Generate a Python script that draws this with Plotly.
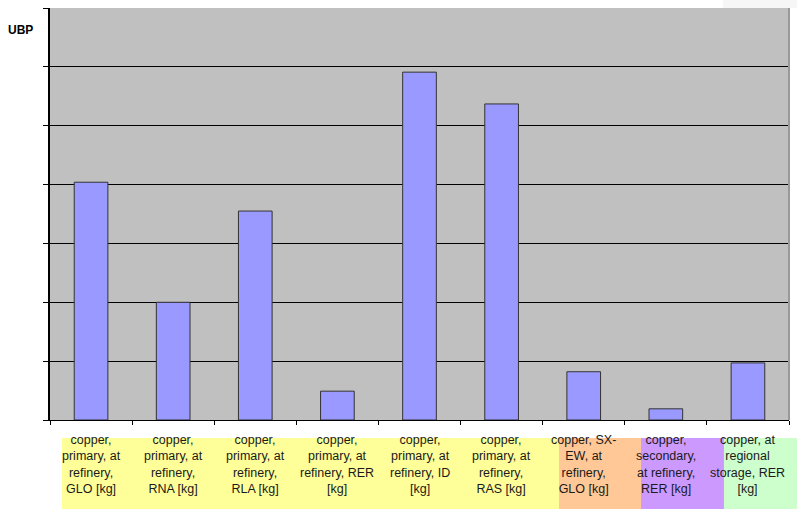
import plotly.graph_objects as go

# Impact per kg of copper (UBP), one bar per dataset
categories = [
    "copper,<br>primary, at<br>refinery,<br>GLO [kg]",
    "copper,<br>primary, at<br>refinery,<br>RNA [kg]",
    "copper,<br>primary, at<br>refinery,<br>RLA [kg]",
    "copper,<br>primary, at<br>refinery, RER<br>[kg]",
    "copper,<br>primary, at<br>refinery, ID<br>[kg]",
    "copper,<br>primary, at<br>refinery,<br>RAS [kg]",
    "copper, SX-<br>EW, at<br>refinery,<br>GLO [kg]",
    "copper,<br>secondary,<br>at refinery,<br>RER [kg]",
    "copper, at<br>regional<br>storage, RER<br>[kg]",
]
values = [4.04, 2.0, 3.55, 0.49, 5.91, 5.37, 0.82, 0.19, 0.97]

# Background bands behind the category labels (paper x extents)
band_edges = [0.0162, 0.6888, 0.7997, 0.912, 1.0108]
band_colors = ["#FFFF99", "#FFC896", "#CC99FF", "#CCFFCC"]

fig = go.Figure()
fig.add_trace(go.Bar(
    x=categories,
    y=values,
    width=0.41,
    marker=dict(color="#9999FF", line=dict(color="#333333", width=1)),
))

shapes = []
for i, col in enumerate(band_colors):
    shapes.append(dict(
        type="rect", xref="paper", yref="paper",
        x0=band_edges[i], x1=band_edges[i + 1], y0=-0.216, y1=-0.0437,
        fillcolor=col, line=dict(width=0), layer="below",
    ))
# faint panel in the top-right corner
shapes.append(dict(
    type="rect", xref="paper", yref="paper",
    x0=(723 - 50) / 739, x1=1.02, y0=1.0, y1=1.0 + 32 / 412,
    fillcolor="#F6F6F6", line=dict(width=0), layer="below",
))
# right border of the plot area
shapes.append(dict(
    type="line", xref="paper", yref="paper", x0=1, x1=1, y0=0, y1=1,
    line=dict(color="#999999", width=2),
))

label_font = dict(family="Liberation Sans, Arial", size=12.5, color="#1a1a1a")
annotations = [
    dict(x=c, y=0, xref="x", yref="y", text=c, showarrow=False,
         yanchor="top", yshift=-11, align="center", font=label_font)
    for c in categories
]
annotations.append(dict(
    x=(20.5 - 50) / 739, y=(420 - 30) / 412, xref="paper", yref="paper",
    text="<b>UBP</b>", showarrow=False, xanchor="center", yanchor="middle",
    font=dict(family="Liberation Sans, Arial", size=12, color="#000000"),
))

fig.update_layout(
    width=797, height=509,
    margin=dict(l=50, r=8, t=8, b=89),
    paper_bgcolor="white",
    plot_bgcolor="#C0C0C0",
    showlegend=False,
    bargap=0.59,
    shapes=shapes,
    annotations=annotations,
    xaxis=dict(
        type="category", showticklabels=False, tickson="boundaries",
        ticks="outside", ticklen=4, tickcolor="#000000", tickwidth=1,
        showline=True, linecolor="#000000", linewidth=1,
        showgrid=False, zeroline=False,
    ),
    yaxis=dict(
        range=[0, 7], dtick=1, tick0=0, showticklabels=False,
        ticks="outside", ticklen=5, tickcolor="#000000", tickwidth=1,
        showline=True, linecolor="#000000", linewidth=1.5,
        showgrid=True, gridcolor="#000000", gridwidth=1,
        zeroline=False,
    ),
)

fig.write_html("out.html")
